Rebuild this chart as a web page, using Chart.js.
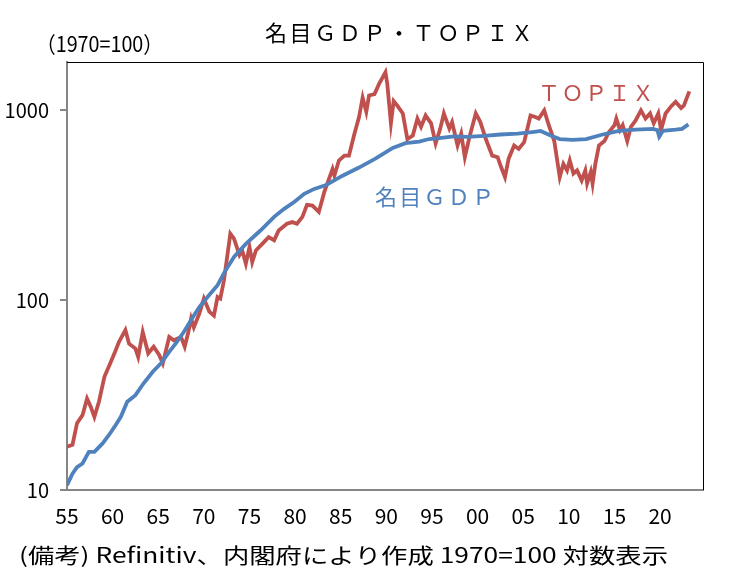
<!DOCTYPE html>
<html>
<head>
<meta charset="utf-8">
<script src="https://cdn.jsdelivr.net/npm/chart.js@4"></script>
<style>
  body { margin: 0; background: #fff; }
  canvas { display: block; }
</style>
</head>
<body>
<canvas id="myChart" width="730" height="588"></canvas>
<script>
// nominal GDP, 1970=100 (year as decimal)
const gdpYears = [
  1955.0, 1955.6, 1956.1, 1956.7, 1957.4, 1958.0, 1958.9, 1959.6, 1960.2, 1960.9,
  1961.6, 1962.5, 1963.4, 1964.4, 1965.3, 1966.2, 1966.9, 1967.8, 1968.7, 1969.5,
  1970.4, 1971.5, 1972.2, 1973.3, 1974.6, 1976.2, 1977.7, 1978.8, 1979.9, 1981.0,
  1982.1, 1983.4, 1985.2, 1987.0, 1988.8, 1990.7, 1992.1, 1993.6, 1994.7, 1995.8,
  1997.4, 1998.9, 2000.7, 2002.5, 2004.4, 2006.2, 2006.9, 2008.0, 2009.0, 2010.4,
  2011.9, 2013.7, 2015.5, 2017.3, 2019.2, 2019.7, 2019.9, 2020.3, 2021.7, 2022.4,
  2023.1
];
const gdpValues = [
  10.6, 12.2, 13.2, 13.8, 15.9, 15.9, 17.6, 19.5, 21.5, 24.3,
  29.2, 31.6, 36.5, 42, 46.5, 53.5, 59, 68, 80, 92,
  104, 120, 139, 169, 198, 233, 275, 303, 329, 364,
  386, 405, 453, 500, 557, 635, 672, 685, 707, 715,
  730, 725, 735, 747, 754, 770, 780, 738, 707, 699,
  707, 747, 780, 792, 800, 788, 728, 780, 792, 800,
  844
];

// TOPIX, 1970=100
const topixYears = [
  1955.0, 1955.6, 1956.1, 1956.7, 1957.2, 1957.6, 1958.0, 1958.5, 1959.1, 1959.8,
  1960.2, 1960.7, 1961.4, 1961.8, 1962.5, 1962.8, 1963.3, 1963.9, 1964.5, 1965.1,
  1965.5, 1966.2, 1966.7, 1967.5, 1967.9, 1968.3, 1968.6, 1968.9, 1969.5, 1970.0,
  1970.6, 1971.1, 1971.5, 1971.8, 1972.2, 1972.9, 1973.3, 1973.9, 1974.2, 1974.6,
  1975.0, 1975.3, 1975.7, 1976.4, 1977.1, 1977.7, 1978.2, 1979.1, 1979.7, 1980.2,
  1980.8, 1981.3, 1981.9, 1982.6, 1983.2, 1984.1, 1984.3, 1984.8, 1985.4, 1985.9,
  1986.5, 1987.0, 1987.4, 1987.8, 1988.1, 1988.7, 1989.2, 1989.9, 1990.1, 1990.5,
  1990.8, 1991.2, 1991.8, 1992.3, 1992.9, 1993.4, 1993.8, 1994.3, 1994.9, 1995.4,
  1995.9, 1996.3, 1996.9, 1997.2, 1997.8, 1998.2, 1998.6, 1999.1, 1999.8, 2000.3,
  2000.9, 2001.6, 2002.2, 2002.5, 2003.0, 2003.4, 2004.0, 2004.5, 2005.1, 2005.8,
  2006.4, 2006.7, 2007.3, 2007.8, 2008.4, 2009.0, 2009.4, 2009.8, 2010.1, 2010.5,
  2010.9, 2011.4, 2011.8, 2012.0, 2012.4, 2012.6, 2012.9, 2013.3, 2013.9, 2014.4,
  2015.0, 2015.2, 2015.6, 2015.9, 2016.4, 2016.8, 2017.3, 2017.9, 2018.4, 2018.9,
  2019.3, 2019.8, 2020.1, 2020.6, 2021.2, 2021.7, 2022.3, 2022.6, 2023.2
];
const topixValues = [
  16.9, 17.3, 22.5, 24.8, 30.3, 27.5, 24.3, 29.2, 39.5, 47.3,
  52.5, 60.4, 69.6, 59, 55.6, 50.3, 68, 52.5, 56.9, 51.5,
  46.5, 64, 61.5, 64, 56.9, 68, 80, 72, 85, 102,
  87, 83, 104, 102, 127, 224, 211, 173, 183, 156,
  191, 159, 183, 198, 215, 207, 233, 253, 258, 253,
  275, 318, 315, 292, 372, 491, 453, 545, 578, 578,
  754, 920, 1170, 983, 1200, 1220, 1380, 1590, 1380, 855,
  1120, 1060, 964, 707, 738, 906, 820, 940, 855, 670,
  800, 964, 802, 868, 654, 754, 567, 722, 964, 868,
  707, 578, 567, 514, 445, 557, 654, 627, 680, 940,
  920, 906, 1000, 836, 690, 445, 523, 483, 545, 465,
  483, 428, 483, 412, 474, 412, 523, 654, 690, 770,
  836, 906, 788, 836, 690, 820, 883, 1000, 906, 964,
  855, 964, 788, 964, 1050, 1110, 1030, 1060, 1260
];

const yTicks = [10, 100, 1000];
const xTicks = [1955, 1960, 1965, 1970, 1975, 1980, 1985, 1990, 1995, 2000, 2005, 2010, 2015, 2020];

const RED = "#C0504D";
const BLUE = "#4F81BD";
const JP = "'Noto Sans CJK JP', sans-serif";

function toPoints(xs, ys) {
  return xs.map((x, i) => ({ x: x, y: ys[i] }));
}

// text squeezed/stretched to a given width
function fitText(ctx, text, x0, cy, width, font, color) {
  ctx.save();
  ctx.font = font;
  ctx.fillStyle = color;
  ctx.textBaseline = "middle";
  ctx.textAlign = "left";
  const w = ctx.measureText(text).width;
  ctx.translate(x0, cy);
  ctx.scale(width / w, 1);
  ctx.fillText(text, 0, 0);
  ctx.restore();
}

// text with letters spread out between x0 and x1
function spacedText(ctx, text, x0, x1, cy, font, color) {
  ctx.save();
  ctx.font = font;
  ctx.fillStyle = color;
  ctx.textBaseline = "middle";
  ctx.textAlign = "left";
  const chars = Array.from(text);
  const widths = chars.map((c) => ctx.measureText(c).width);
  const total = widths.reduce((a, b) => a + b, 0);
  const gap = (x1 - x0 - total) / (chars.length - 1);
  let x = x0;
  chars.forEach((c, i) => {
    ctx.fillText(c, x, cy);
    x += widths[i] + gap;
  });
  ctx.restore();
}

const textPlugin = {
  id: "texts",
  beforeDatasetsDraw(chart) {
    const ctx = chart.ctx;
    const a = chart.chartArea;
    // top and right frame
    ctx.save();
    ctx.strokeStyle = "#000";
    ctx.lineWidth = 1;
    ctx.beginPath();
    ctx.moveTo(a.left, a.top + 0.5);
    ctx.lineTo(a.right + 0.5, a.top + 0.5);
    ctx.lineTo(a.right + 0.5, a.bottom);
    ctx.stroke();
    ctx.restore();
  },
  afterDraw(chart) {
    const ctx = chart.ctx;
    spacedText(ctx, "名目ＧＤＰ・ＴＯＰＩＸ", 265, 533, 33, "22px " + JP, "#000");
    fitText(ctx, "（1970=100）", 36, 44, 127, "22px " + JP, "#000");
    spacedText(ctx, "ＴＯＰＩＸ", 538, 654, 93, "22px " + JP, RED);
    spacedText(ctx, "名目ＧＤＰ", 375, 494, 197, "22px " + JP, BLUE);
    fitText(ctx, "(備考) Refinitiv、内閣府により作成 1970=100 対数表示", 19, 555, 649, "21px " + JP, "#000");
  },
};

const ctx = document.getElementById("myChart");

new Chart(ctx, {
  type: "line",
  data: {
    datasets: [
      {
        label: "名目GDP",
        data: toPoints(gdpYears, gdpValues),
        borderColor: BLUE,
        borderWidth: 3.8,
        pointRadius: 0,
        tension: 0,
        fill: false,
      },
      {
        label: "TOPIX",
        data: toPoints(topixYears, topixValues),
        borderColor: RED,
        borderWidth: 3.8,
        pointRadius: 0,
        tension: 0,
        fill: false,
      },
    ],
  },
  options: {
    responsive: false,
    animation: false,
    devicePixelRatio: 1,
    layout: {
      padding: { top: 62, right: 27, left: 0, bottom: 0 },
    },
    plugins: {
      legend: { display: false },
      tooltip: { enabled: false },
      title: { display: false },
    },
    scales: {
      x: {
        type: "linear",
        min: 1955,
        max: 2024.7,
        afterFit: (scale) => { scale.height = 98; },
        afterBuildTicks: (scale) => {
          scale.ticks = xTicks.map((v) => ({ value: v }));
        },
        grid: { display: false, drawTicks: false },
        border: { display: true, color: "#868686", width: 2 },
        ticks: {
          padding: 13,
          color: "#000",
          maxRotation: 0,
          autoSkip: false,
          font: { family: JP, size: 21 },
          callback: (v) => String(v % 100).padStart(2, "0"),
        },
      },
      y: {
        type: "logarithmic",
        min: 10,
        max: 1800,
        afterFit: (scale) => { scale.width = 67; },
        afterBuildTicks: (scale) => {
          scale.ticks = yTicks.map((v) => ({ value: v }));
        },
        grid: {
          display: true,
          drawOnChartArea: false,
          drawTicks: true,
          tickLength: 7,
          color: "#868686",
          lineWidth: 2,
        },
        border: { display: true, color: "#868686", width: 2 },
        ticks: {
          padding: 11,
          color: "#000",
          autoSkip: false,
          font: { family: JP, size: 20 },
          callback: (v) => String(v),
        },
      },
    },
  },
  plugins: [textPlugin],
});
</script>
</body>
</html>
